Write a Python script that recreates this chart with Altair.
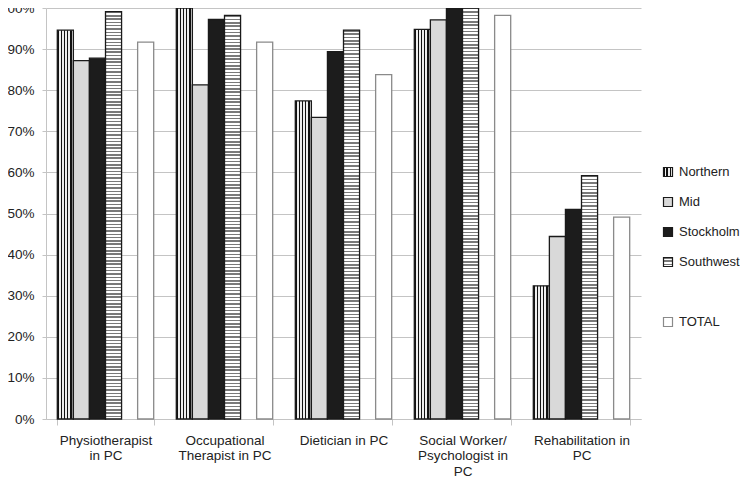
import altair as alt
import pandas as pd

# ---------------- data ----------------
categories = [
    "Physiotherapist\nin PC",
    "Occupational\nTherapist in PC",
    "Dietician in PC",
    "Social Worker/\nPsychologist in\nPC",
    "Rehabilitation in\nPC",
]
series = ["Northern", "Mid", "Stockholm", "Southwest", "TOTAL"]
northern = [0.946, 1.000, 0.774, 0.948, 0.324]
mid = [0.872, 0.813, 0.734, 0.971, 0.444]
stockholm = [0.878, 0.972, 0.894, 1.000, 0.510]
southwest = [0.991, 0.982, 0.946, 1.000, 0.592]
total = [0.917, 0.917, 0.838, 0.982, 0.491]
y_ticks = [0, 0.1, 0.2, 0.3, 0.4, 0.5, 0.6, 0.7, 0.8, 0.9, 1.0]

values = {"Northern": northern, "Mid": mid, "Stockholm": stockholm,
          "Southwest": southwest, "TOTAL": total}
rows = []
for s in series:
    for i, c in enumerate(categories):
        rows.append({"category": c, "idx": i, "series": s, "value": values[s][i]})
df = pd.DataFrame(rows)
legend_df = pd.DataFrame({"series": series})

# ---------------- styling ----------------
FONT = "Liberation Sans"
GRID = "#c4c4c4"
TEXT = "#222222"
PLOT_W, PLOT_H = 595, 411
domain_series = ["Northern", "Mid", "Stockholm", "Southwest", "_gap", "TOTAL"]
MID_FILL = "#d9d9d9"
STOCK_FILL = "#1c1c1c"


def stripes(n, frac, dark, light, along_x):
    stops = []
    for i in range(n):
        a = round(i / n, 5)
        b = round((i + frac) / n, 5)
        c = round((i + 1) / n, 5)
        stops += [{"offset": a, "color": dark}, {"offset": b, "color": dark},
                  {"offset": b, "color": light}, {"offset": c, "color": light}]
    return {"gradient": "linear", "x1": 0, "y1": 0,
            "x2": 1 if along_x else 0, "y2": 0 if along_x else 1,
            "stops": stops}


bar_conds = [
    {"test": "datum.series === 'Northern'", "value": stripes(5, 0.45, "#111111", "#eeeeee", True)},
    {"test": "datum.series === 'Mid'", "value": MID_FILL},
    {"test": "datum.series === 'Stockholm'", "value": STOCK_FILL},
]
for i, v in enumerate(southwest):
    n = max(2, round(v * PLOT_H / 3.3))
    bar_conds.append({"test": f"datum.series === 'Southwest' && datum.idx === {i}",
                      "value": stripes(n, 0.45, "#7a7a7a", "#ffffff", False)})

leg_conds = [
    {"test": "datum.series === 'Northern'", "value": stripes(3, 0.45, "#111111", "#eeeeee", True)},
    {"test": "datum.series === 'Mid'", "value": MID_FILL},
    {"test": "datum.series === 'Stockholm'", "value": STOCK_FILL},
    {"test": "datum.series === 'Southwest'", "value": stripes(3, 0.45, "#7a7a7a", "#ffffff", False)},
]
stroke_enc = alt.value("#1a1a1a", condition={"test": "datum.series === 'TOTAL'", "value": "#8a8a8a"})

bars = alt.Chart(df).mark_bar(strokeWidth=1.3).encode(
    x=alt.X(
        "category:N", sort=categories, title=None,
        scale=alt.Scale(paddingInner=0.19, paddingOuter=0.095),
        axis=alt.Axis(
            labelAngle=0, labelExpr="split(datum.label, '\\n')",
            labelFont=FONT, labelFontSize=13.5, labelColor=TEXT,
            labelLineHeight=15.8, labelPadding=8, labelOverlap=False, labelLimit=0,
            tickBand="extent", tickSize=6, tickColor=GRID, domainColor=GRID,
            grid=False,
        ),
    ),
    xOffset=alt.XOffset("series:N", scale=alt.Scale(domain=domain_series, paddingInner=0, paddingOuter=0)),
    y=alt.Y(
        "value:Q", title=None,
        scale=alt.Scale(domain=[0, 1], nice=False),
        axis=alt.Axis(
            values=y_ticks, format=".0%",
            labelFont=FONT, labelFontSize=13.5, labelColor=TEXT, labelPadding=8,
            tickSize=4, tickColor=GRID, domainColor=GRID, gridColor=GRID,
        ),
    ),
    fill=alt.value("#ffffff", condition=bar_conds),
    stroke=stroke_enc,
)

leg_y = alt.Y("series:N", axis=None,
              scale=alt.Scale(type="point", domain=domain_series, range=[164, 314], padding=0))

leg_sym = alt.Chart(legend_df).mark_point(shape="square", filled=True, size=81, strokeWidth=1.2, opacity=1).encode(
    x=alt.value(622),
    y=leg_y,
    fill=alt.value("#ffffff", condition=leg_conds),
    stroke=stroke_enc,
)
leg_txt = alt.Chart(legend_df).mark_text(
    align="left", baseline="middle", font=FONT, fontSize=13, color=TEXT
).encode(
    x=alt.value(633),
    y=leg_y,
    text="series:N",
)

chart = alt.layer(bars, leg_sym, leg_txt).resolve_scale(y="independent").properties(
    width=PLOT_W, height=PLOT_H,
    autosize=alt.AutoSizeParams(type="none"),
    padding={"left": 38, "top": 0, "right": 99, "bottom": 60},
).configure_view(stroke=None)

chart.save("out.html", embed_options={"renderer": "svg", "actions": False})
